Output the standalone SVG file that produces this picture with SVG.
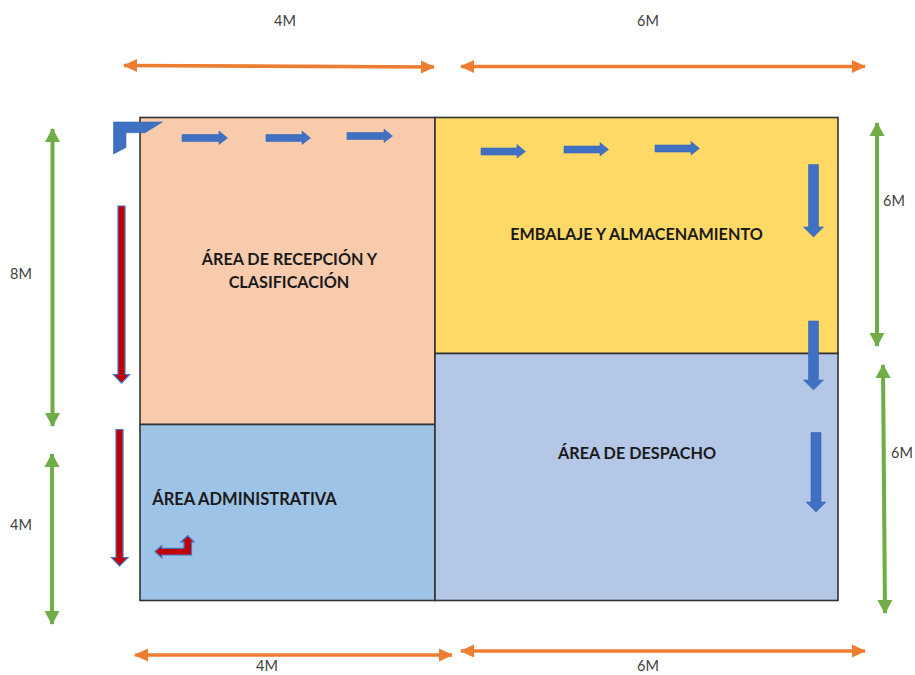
<svg xmlns="http://www.w3.org/2000/svg" width="915" height="675" viewBox="0 0 915 675">
<style>
.room{stroke:#333;stroke-width:1.6}
.lbl{font-family:Lato,"Open Sans","Liberation Sans",sans-serif;font-weight:700;font-size:16.2px;fill:#1a1a1a;text-anchor:middle}
.dim{font-family:Lato,"Open Sans","Liberation Sans",sans-serif;font-size:14.5px;fill:#404040;text-anchor:middle}
.o{stroke:#ed7d31;stroke-width:3.6;fill:none;marker-start:url(#oh);marker-end:url(#oh)}
.g{stroke:#70ad47;stroke-width:4;fill:none;marker-start:url(#gh);marker-end:url(#gh)}
.b{fill:#4070c2;stroke:#3d68b5;stroke-width:.6}
.r{fill:#c00000;stroke:#4472c4;stroke-width:1.2}
</style>
<defs>
<marker id="oh" markerUnits="userSpaceOnUse" markerWidth="16" markerHeight="16" refX="14" refY="8" orient="auto-start-reverse"><path d="M1 1.500L15 8L1 14.500Z" fill="#ed7d31"/></marker>
<marker id="gh" markerUnits="userSpaceOnUse" markerWidth="16" markerHeight="16" refX="14" refY="8" orient="auto-start-reverse"><path d="M1 .5L15 8L1 15.500Z" fill="#70ad47"/></marker>
</defs>
<rect width="915" height="675" fill="#fff"/>
<g id="area-recepcion"><rect class="room" x="140" y="117.500" width="295" height="307" fill="#f8cbad"/><text class="lbl"><tspan x="289.500" y="265">ÁREA DE RECEPCIÓN Y</tspan><tspan x="289" y="288">CLASIFICACIÓN</tspan></text></g>
<g id="area-administrativa"><rect class="room" x="140" y="424.500" width="295" height="176" fill="#9dc3e6"/><text class="lbl" x="244.500" y="505" style="font-size:16.500px">ÁREA ADMINISTRATIVA</text></g>
<g id="area-embalaje"><rect class="room" x="435" y="117.500" width="403" height="236" fill="#ffd966"/><text class="lbl" x="636.500" y="240">EMBALAJE Y ALMACENAMIENTO</text></g>
<g id="area-despacho"><rect class="room" x="435" y="353.500" width="403" height="247" fill="#b4c7e7"/><text class="lbl" x="637" y="459">ÁREA DE DESPACHO</text></g>
<g id="connectors">
<path class="o" d="M124 65.500L434 67"/>
<path class="o" d="M461 66.500H865"/>
<path class="o" d="M135 655H452"/>
<path class="o" d="M461 651H865"/>
<path class="g" d="M52.500 129V426"/>
<path class="g" d="M52 454V624"/>
<path class="g" d="M877 123V346"/>
<path class="g" d="M883 365L885 613"/>
<path class="b" d="M182 134.500H219V131L227.500 138L219 144.500V141.500H182Z"/>
<path class="b" d="M266 134.500H302V131L310.500 138L302 144.500V141.500H266Z"/>
<path class="b" d="M347 132.500H384V129L392.500 136L384 142.500V139.500H347Z"/>
<path class="b" d="M481 148H517V144.500L525.500 151.500L517 158V155H481Z"/>
<path class="b" d="M564 146H600V142.500L608.500 149.500L600 156V153H564Z"/>
<path class="b" d="M655 145H691V141.500L699.500 148.500L691 155V152H655Z"/>
<path class="b" d="M808.500 164.500H818.500V227H823.500L813.500 237L803.500 227H808.500Z"/>
<path class="b" d="M808.500 321H818.500V380H823.500L813.500 390L803.500 380H808.500Z"/>
<path class="b" d="M811 432.500H821V502H826L816 512L806 502H811Z"/>
<path class="b" d="M113.500 122H162.500L145 132.700H126V147.500L113.500 154Z"/>
<path class="r" d="M118 206H125V374.500H129.500L121.500 383L113.500 374.500H118Z"/>
<path class="r" d="M116 429.500H123V557.500H128L119.500 566L111.500 557.500H116Z"/>
<path class="r" d="M191.500 542H194L187.700 535.700L181 542H184V548.300H161.700V545.500L155 551.500L161.700 557.700V555H191.500Z"/>
</g>
<g id="dimension-labels">
<text class="dim" x="285" y="26">4M</text>
<text class="dim" x="648" y="26">6M</text>
<text class="dim" x="21" y="279">8M</text>
<text class="dim" x="21" y="530">4M</text>
<text class="dim" x="894" y="206">6M</text>
<text class="dim" x="902" y="458">6M</text>
<text class="dim" x="267" y="671">4M</text>
<text class="dim" x="648" y="671">6M</text>
</g>
</svg>
